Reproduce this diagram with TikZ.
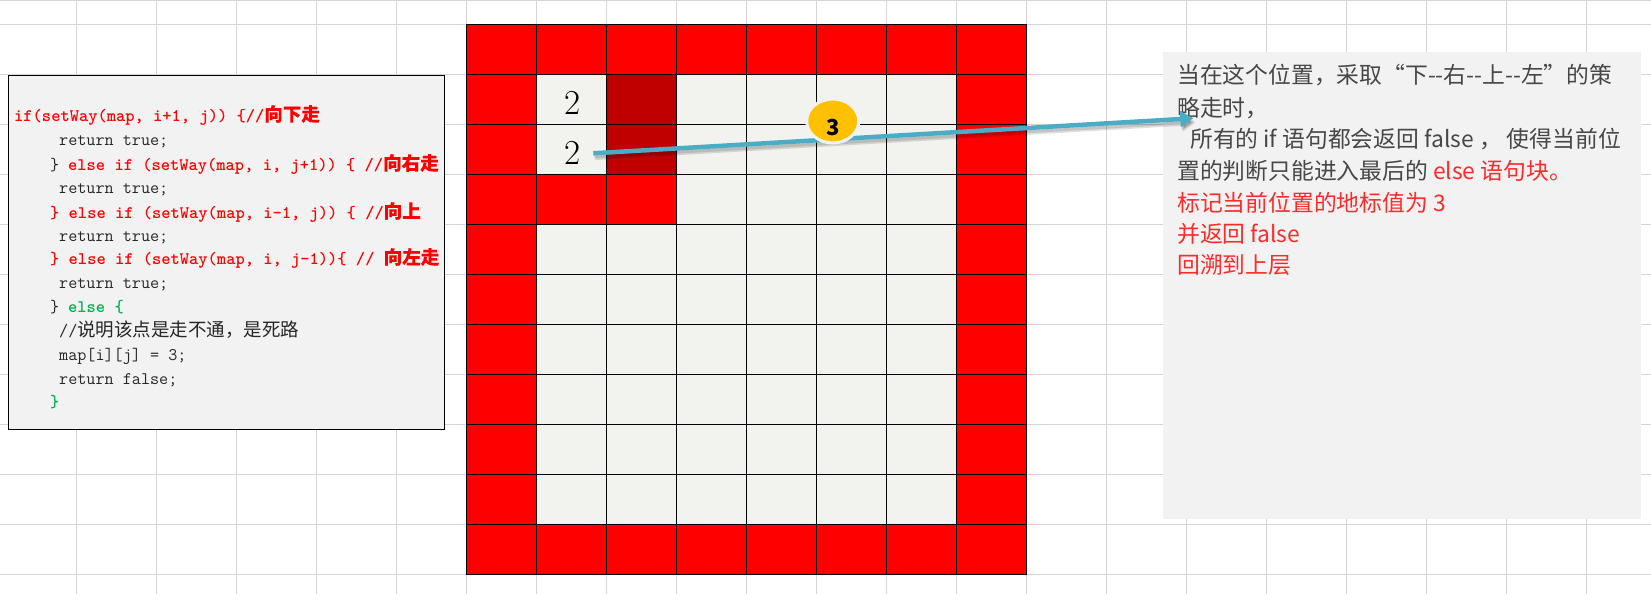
\documentclass[tikz,border=0pt]{standalone}
\usepackage{fontspec}
\usepackage{xcolor}
\newfontfamily\cjkfont{Noto Sans CJK SC}
\newfontfamily\cjkheavy[FakeBold=0.15]{Noto Sans CJK SC}
\definecolor{sheetline}{HTML}{D4D4D4}
\definecolor{panelgray}{HTML}{F2F2F2}
\definecolor{cellfree}{HTML}{F2F2EE}
\definecolor{cellwall}{HTML}{FF0000}
\definecolor{cellback}{HTML}{C00000}
\definecolor{arrowteal}{HTML}{4BACC6}
\definecolor{badge}{HTML}{FFC000}
\definecolor{codegreen}{HTML}{00B050}
\definecolor{notered}{HTML}{FF2A2A}
\newcommand{\cc}[1]{{\cjkfont\fontsize{18.5}{20}\selectfont #1}}
\newcommand{\cb}[1]{{\cjkheavy\fontsize{18.5}{20}\selectfont #1}}
\usetikzlibrary{arrows.meta,shapes.geometric}
\tikzset{
  x=1pt,y=-1pt,
  sheet/.style={draw=sheetline,line width=1pt},
  panel/.style={fill=panelgray},
  cell/.style={draw=black,line width=1pt},
  codeline/.style={anchor=base west,inner sep=0pt,font=\ttfamily\fontsize{17.65}{20}\selectfont,text=black!85},
  redcode/.style={codeline,text=red,font=\ttfamily\bfseries\fontsize{17.65}{20}\selectfont},
  noteline/.style={anchor=base west,inner sep=0pt,font=\cjkfont\fontsize{22.8}{26}\selectfont,text=black!72},
  rednote/.style={noteline,text=notered},
  digit/.style={inner sep=0pt,font=\addfontfeature{FakeBold=0.4}\fontsize{35}{36}\selectfont,text=black},
  pathline/.style={line width=4.5pt,-{Triangle[length=13pt,width=15.5pt]}},
}
\begin{document}
\begin{tikzpicture}
\useasboundingbox (0,0) rectangle (1651,594);
\fill[white] (0,0) rectangle (1651,594);
% spreadsheet background
\foreach \yy in {0.7,24.3,74.3,124.3,174.3,224.3,274.3,324.3,374.3,424.3,474.3,524.3,574.3}
  \draw[sheet] (0,\yy) -- (1651,\yy);
\foreach \xx in {76.7,156.7,236.7,316.7,396.7,466.7,536.7,606.7,676.7,746.7,816.7,886.7,956.7,1026.7,1106.7,1186.7,1266.7,1346.7,1426.7,1506.7,1586.7}
  \draw[sheet] (\xx,0) -- (\xx,594);
% maze
\foreach \r in {0,...,10}
  \foreach \c in {0,...,7}{
    \pgfmathsetmacro{\px}{466.7+70*\c}
    \pgfmathsetmacro{\py}{24.3+50*\r}
    \pgfmathtruncatemacro{\wall}{(\r==0)||(\r==10)||(\c==0)||(\c==7)||(\r==3&&\c<3)}
    \pgfmathtruncatemacro{\back}{(\c==2)&&(\r==1||\r==2)}
    \ifnum\wall=1 \def\cellcol{cellwall}\else\ifnum\back=1 \def\cellcol{cellback}\else\def\cellcol{cellfree}\fi\fi
    \filldraw[cell,fill=\cellcol] (\px,\py) rectangle ++(70,50);
  }
\node[digit] (two1) at (572.7,103) {2};
\node[digit] (two2) at (572.7,153) {2};
% code panel
\filldraw[panel,draw=black,line width=1pt] (8.5,75.3) rectangle (444.5,429);
\node[redcode] (c1) at (14,121) {if(setWay(map, i+1, j)) \{//\cb{向下走}};
\node[codeline] (c2) at (59,145) {return true;};
\node[codeline] (c3a) at (50,170) {\}};
\node[redcode] (c3) at (68,170) {else if (setWay(map, i, j+1)) \{ //\cb{向右走}};
\node[codeline] (c4) at (59,193) {return true;};
\node[redcode] (c5) at (50,218) {\} else if (setWay(map, i-1, j)) \{ //\cb{向上}};
\node[codeline] (c6) at (59,241) {return true;};
\node[redcode] (c7) at (50,264) {\} else if (setWay(map, i, j-1))\{ // \cb{向左走}};
\node[codeline] (c8) at (59,288) {return true;};
\node[codeline] (c9a) at (50,312) {\}};
\node[redcode,text=codegreen] (c9) at (68,312) {else \{};
\node[codeline] (c10) at (59,336) {//\cc{说明该点是走不通，是死路}};
\node[codeline] (c11) at (59,360) {map[i][j] = 3;};
\node[codeline] (c12) at (59,384) {return false;};
\node[redcode,text=codegreen] (c13) at (50,407) {\}};
% note panel
\fill[panel] (1162.7,52) rectangle (1640.7,519);
\node[noteline] (n1) at (1177,84) {当在这个位置，采取“下--右--上--左”的策};
\node[noteline] (n2) at (1177,116) {略走时，};
\node[noteline] (n3) at (1190,147) {所有的 if 语句都会返回 false ， 使得当前位};
\node[noteline] (n4) at (1177,179) {置的判断只能进入最后的 \textcolor{notered}{else 语句块。}};
\node[rednote] (n5) at (1177,211) {标记当前位置的地标值为 3};
\node[rednote] (n6) at (1177,242) {并返回 false};
\node[rednote] (n7) at (1177,273) {回溯到上层};
% arrow
\coordinate (pathstart) at (593.3,153.3);
\coordinate (pathend) at (1193.3,118.3);
\draw[pathline,black,opacity=.12,transform canvas={shift={(1,3)}}] (pathstart) -- (pathend);
\draw[pathline,black,opacity=.12,transform canvas={shift={(2,4.5)}}] (pathstart) -- (pathend);
\draw[pathline,arrowteal] (pathstart) -- (pathend);
% badge
\node[ellipse,draw=panelgray,line width=3pt,fill=badge,minimum width=52pt,minimum height=44pt,inner sep=0pt,font=\cjkfont\fontsize{22}{24}\selectfont\bfseries,text=black] (badge3) at (832.7,121) {\raisebox{-14pt}[0pt][0pt]{3}};
\end{tikzpicture}
\end{document}
